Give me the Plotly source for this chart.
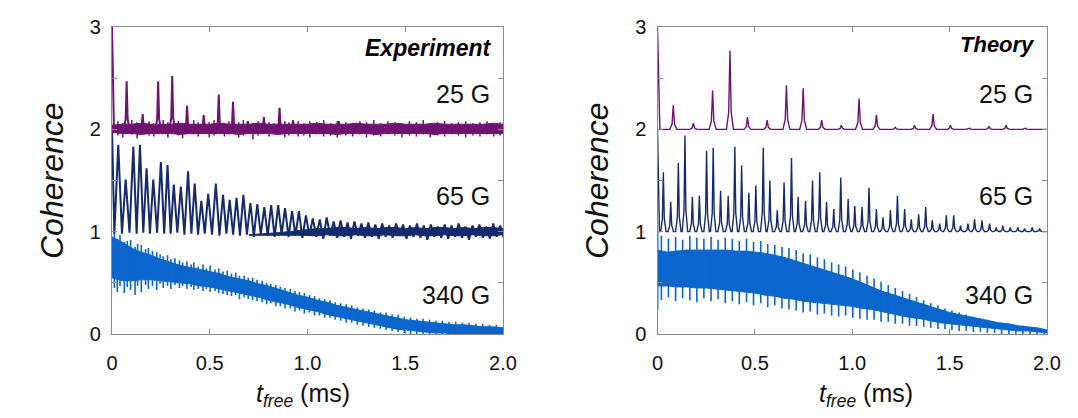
import plotly.graph_objects as go

# ---------------- data ----------------
t_grid = [0.00, 0.05, 0.10, 0.15, 0.20, 0.25, 0.30, 0.35, 0.40, 0.45,
          0.50, 0.55, 0.60, 0.65, 0.70, 0.75, 0.80, 0.85, 0.90, 0.95,
          1.00, 1.05, 1.10, 1.15, 1.20, 1.25, 1.30, 1.35, 1.40, 1.45,
          1.50, 1.55, 1.60, 1.65, 1.70, 1.75, 1.80, 1.85, 1.90, 1.95, 2.00]

# Experiment, 25 G (offset 2)
exp25_start_t = [0.0, 0.010]
exp25_start_v = [3.0, 2.0]
exp25_peak_t = [0.075, 0.157, 0.236, 0.308, 0.384, 0.469, 0.546, 0.619, 0.695, 0.777, 0.857, 0.926, 1.160]
exp25_peak_v = [2.47, 2.15, 2.47, 2.52, 2.23, 2.14, 2.34, 2.27, 2.08, 2.12, 2.21, 2.09, 2.08]
exp25_upper = [2.04, 2.05, 2.05, 2.06, 2.05, 2.05, 2.05, 2.06, 2.05, 2.05, 2.05, 2.06, 2.05, 2.05,
               2.05, 2.06, 2.05, 2.05, 2.05, 2.05, 2.05, 2.06, 2.05, 2.05, 2.05, 2.06, 2.05, 2.05,
               2.05, 2.06, 2.05, 2.05, 2.05, 2.06, 2.05, 2.05, 2.05, 2.05, 2.05, 2.06, 2.05]
exp25_lower = [1.97, 1.96, 1.96, 1.95, 1.96, 1.96, 1.96, 1.95, 1.96, 1.96, 1.96, 1.96, 1.96, 1.95,
               1.96, 1.96, 1.96, 1.95, 1.96, 1.96, 1.96, 1.96, 1.96, 1.95, 1.96, 1.96, 1.96, 1.95,
               1.96, 1.96, 1.96, 1.96, 1.96, 1.95, 1.96, 1.96, 1.96, 1.96, 1.96, 1.96, 1.96]
exp25_noise_t = [0.030, 0.055, 0.101, 0.128, 0.190, 0.214, 0.262, 0.286, 0.339, 0.361, 0.418, 0.441,
                 0.497, 0.522, 0.575, 0.598, 0.648, 0.672, 0.721, 0.748, 0.803, 0.829, 0.884, 0.905,
                 0.952, 0.981, 1.012, 1.047, 1.083, 1.118, 1.152, 1.196, 1.231, 1.268, 1.302, 1.339,
                 1.374, 1.411, 1.447, 1.483, 1.521, 1.557, 1.592, 1.628, 1.665, 1.701, 1.738, 1.772,
                 1.809, 1.846, 1.882, 1.918, 1.953, 1.985]
exp25_noise_hi = [2.08, 2.06, 2.09, 2.07, 2.08, 2.06, 2.09, 2.07, 2.08, 2.06, 2.09, 2.07,
                  2.07, 2.09, 2.06, 2.08, 2.07, 2.09, 2.06, 2.08, 2.07, 2.06, 2.08, 2.07,
                  2.08, 2.06, 2.08, 2.07, 2.09, 2.06, 2.08, 2.07, 2.06, 2.08, 2.07, 2.09,
                  2.06, 2.08, 2.07, 2.06, 2.08, 2.07, 2.09, 2.06, 2.07, 2.08, 2.06, 2.07,
                  2.08, 2.06, 2.07, 2.08, 2.06, 2.07]
exp25_noise_lo = [1.94, 1.92, 1.95, 1.91, 1.94, 1.93, 1.95, 1.92, 1.94, 1.91, 1.95, 1.93,
                  1.92, 1.94, 1.93, 1.95, 1.92, 1.94, 1.90, 1.94, 1.93, 1.95, 1.92, 1.94,
                  1.93, 1.94, 1.92, 1.95, 1.93, 1.94, 1.92, 1.94, 1.93, 1.95, 1.92, 1.94,
                  1.93, 1.95, 1.94, 1.92, 1.94, 1.93, 1.95, 1.92, 1.94, 1.93, 1.95, 1.94,
                  1.92, 1.94, 1.93, 1.95, 1.93, 1.94]

# Experiment, 65 G (offset 1)
exp65_start_t = [0.0, 0.012]
exp65_start_v = [2.0, 0.98]
exp65_peak_t = [0.032, 0.070, 0.109, 0.143, 0.177, 0.211, 0.250, 0.284, 0.316, 0.352,
                0.389, 0.423, 0.457, 0.492, 0.531, 0.568, 0.602, 0.637, 0.672, 0.708,
                0.743, 0.779, 0.814, 0.850, 0.885, 0.921, 0.956, 0.992, 1.027, 1.063,
                1.098, 1.134, 1.169, 1.205, 1.240, 1.276, 1.311, 1.347, 1.382, 1.418,
                1.453, 1.489, 1.524, 1.560, 1.595, 1.631, 1.666, 1.702, 1.737, 1.773,
                1.808, 1.844, 1.879, 1.915, 1.950, 1.986]
exp65_peak_v = [1.85, 1.51, 1.83, 1.85, 1.62, 1.51, 1.68, 1.65, 1.46, 1.44,
                1.59, 1.47, 1.30, 1.37, 1.47, 1.36, 1.31, 1.33, 1.36, 1.28,
                1.27, 1.24, 1.26, 1.26, 1.23, 1.20, 1.20, 1.16, 1.13, 1.12,
                1.14, 1.10, 1.11, 1.09, 1.10, 1.08, 1.09, 1.07, 1.08, 1.06,
                1.08, 1.07, 1.06, 1.08, 1.06, 1.07, 1.05, 1.07, 1.06, 1.08,
                1.05, 1.06, 1.07, 1.05, 1.08, 1.06]
exp65_trough_v = [0.98, 0.99, 0.98, 0.99, 0.98, 0.99, 0.98, 0.98, 0.99, 0.97,
                  0.98, 0.97, 0.98, 0.97, 0.96, 0.98, 0.97, 0.96, 0.97, 0.95,
                  0.97, 0.96, 0.95, 0.97, 0.95, 0.96, 0.94, 0.96, 0.95, 0.93,
                  0.96, 0.94, 0.95, 0.93, 0.96, 0.94, 0.95, 0.93, 0.95, 0.94,
                  0.96, 0.93, 0.95, 0.94, 0.92, 0.95, 0.94, 0.93, 0.95, 0.94,
                  0.92, 0.95, 0.94, 0.93, 0.95, 0.94]
# late, noise-dominated part of the 65 G trace (fills in as the oscillation fades)
exp65_band_t = [0.70, 0.75, 0.80, 0.85, 0.90, 0.95,
                1.00, 1.05, 1.10, 1.15, 1.20, 1.25, 1.30, 1.35, 1.40, 1.45, 1.50,
                1.55, 1.60, 1.65, 1.70, 1.75, 1.80, 1.85, 1.90, 1.95, 2.00]
exp65_band_hi = [0.97, 0.975, 0.98, 0.99, 1.00, 1.01,
                 1.02, 1.03, 1.03, 1.04, 1.04, 1.03, 1.04, 1.03, 1.04, 1.04, 1.03,
                 1.04, 1.03, 1.04, 1.04, 1.03, 1.04, 1.03, 1.04, 1.04, 1.03]
exp65_band_lo = [0.965, 0.965, 0.965, 0.965, 0.965, 0.965,
                 0.965, 0.96, 0.97, 0.96, 0.96, 0.97, 0.96, 0.96, 0.97, 0.96, 0.96,
                 0.97, 0.96, 0.96, 0.97, 0.96, 0.96, 0.97, 0.96, 0.96, 0.97]

# Experiment, 340 G (offset 0): solid band plus noise spikes
exp340_upper = [0.95, 0.90, 0.84, 0.80, 0.77, 0.73, 0.70, 0.67, 0.65, 0.63,
                0.61, 0.59, 0.56, 0.54, 0.52, 0.49, 0.47, 0.44, 0.41, 0.38,
                0.36, 0.33, 0.31, 0.28, 0.26, 0.24, 0.22, 0.20, 0.18, 0.16,
                0.14, 0.13, 0.12, 0.11, 0.10, 0.09, 0.09, 0.08, 0.07, 0.07, 0.06]
exp340_lower = [0.55, 0.52, 0.52, 0.53, 0.53, 0.52, 0.51, 0.50, 0.49, 0.47,
                0.46, 0.44, 0.42, 0.40, 0.38, 0.36, 0.33, 0.31, 0.29, 0.26,
                0.24, 0.22, 0.19, 0.17, 0.15, 0.13, 0.11, 0.09, 0.07, 0.05,
                0.04, 0.03, 0.02, 0.01, 0.01, 0.00, 0.00, 0.00, 0.00, 0.00, 0.00]
exp340_spike_t = [0.012, 0.027, 0.041, 0.063, 0.078, 0.095, 0.118, 0.131, 0.150, 0.172,
                  0.186, 0.207, 0.229, 0.246, 0.262, 0.284, 0.301, 0.322, 0.345, 0.361,
                  0.383, 0.405, 0.419, 0.441, 0.466, 0.483, 0.502, 0.527, 0.546, 0.568,
                  0.589, 0.611, 0.633, 0.652, 0.676, 0.697, 0.719, 0.742, 0.768, 0.791,
                  0.812, 0.838, 0.861, 0.885, 0.912, 0.936, 0.959, 0.984, 1.010, 1.036,
                  1.061, 1.088, 1.115, 1.142, 1.170, 1.198, 1.226, 1.255, 1.284, 1.313,
                  1.342, 1.372, 1.402, 1.433, 1.464, 1.495, 1.527, 1.559, 1.591, 1.624,
                  1.657, 1.690, 1.724, 1.758, 1.792, 1.826, 1.861, 1.896, 1.931, 1.966]
exp340_spike_hi = [0.99, 0.93, 0.97, 0.90, 0.91, 0.92, 0.85, 0.88, 0.87, 0.83,
                   0.84, 0.81, 0.80, 0.78, 0.76, 0.77, 0.73, 0.74, 0.72, 0.70,
                   0.71, 0.68, 0.70, 0.66, 0.68, 0.64, 0.67, 0.63, 0.64, 0.61,
                   0.62, 0.59, 0.60, 0.57, 0.57, 0.55, 0.55, 0.53, 0.52, 0.50,
                   0.49, 0.48, 0.46, 0.45, 0.44, 0.42, 0.41, 0.40, 0.38, 0.37,
                   0.35, 0.34, 0.33, 0.31, 0.30, 0.29, 0.28, 0.26, 0.25, 0.24,
                   0.23, 0.21, 0.21, 0.19, 0.19, 0.17, 0.16, 0.15, 0.15, 0.14,
                   0.13, 0.13, 0.12, 0.12, 0.11, 0.11, 0.10, 0.10, 0.09, 0.09]
exp340_spike_lo = [0.45, 0.41, 0.47, 0.40, 0.46, 0.43, 0.38, 0.47, 0.41, 0.48,
                   0.44, 0.47, 0.43, 0.49, 0.45, 0.47, 0.44, 0.48, 0.45, 0.47,
                   0.44, 0.46, 0.43, 0.44, 0.42, 0.44, 0.41, 0.42, 0.40, 0.39,
                   0.38, 0.37, 0.38, 0.34, 0.36, 0.34, 0.33, 0.32, 0.31, 0.29,
                   0.30, 0.27, 0.27, 0.25, 0.25, 0.22, 0.23, 0.20, 0.21, 0.18,
                   0.18, 0.16, 0.16, 0.14, 0.13, 0.11, 0.11, 0.09, 0.08, 0.07,
                   0.06, 0.05, 0.04, 0.03, 0.02, 0.01, 0.00, 0.00, -0.01, 0.00,
                   -0.01, -0.01, -0.01, -0.01, -0.01, -0.01, -0.01, -0.01, -0.01, -0.01]

# Theory, 25 G
th25_start_t = [0.0, 0.012]
th25_start_v = [3.0, 2.0]
th25_peak_t = [0.081, 0.184, 0.283, 0.372, 0.462, 0.563, 0.662, 0.748, 0.843, 0.944,
               1.035, 1.124, 1.221, 1.320, 1.415, 1.504, 1.603, 1.702, 1.790, 1.890]
th25_peak_v = [2.235, 2.06, 2.38, 2.77, 2.12, 2.09, 2.43, 2.40, 2.09, 2.04,
               2.30, 2.14, 2.02, 2.04, 2.15, 2.04, 2.01, 2.03, 2.04, 2.01]
th25_base = 2.0

# Theory, 65 G
th65_start_t = [0.0, 0.010]
th65_start_v = [2.0, 1.0]
th65_peak_t = [0.030, 0.068, 0.107, 0.141, 0.179, 0.215, 0.252, 0.286, 0.324, 0.363,
               0.397, 0.432, 0.469, 0.505, 0.543, 0.577, 0.615, 0.650, 0.688, 0.722,
               0.760, 0.796, 0.833, 0.868, 0.905, 0.941, 0.979, 1.013, 1.050, 1.086,
               1.124, 1.158, 1.196, 1.232, 1.269, 1.303, 1.341, 1.377, 1.411, 1.449,
               1.483, 1.521, 1.556, 1.594, 1.628, 1.666, 1.705, 1.739, 1.773, 1.811,
               1.850, 1.885, 1.924, 1.962]
th65_peak_v = [1.58, 1.29, 1.67, 1.94, 1.34, 1.35, 1.79, 1.82, 1.40, 1.35,
               1.83, 1.65, 1.38, 1.45, 1.82, 1.50, 1.21, 1.48, 1.72, 1.34,
               1.30, 1.50, 1.58, 1.29, 1.22, 1.53, 1.32, 1.25, 1.24, 1.43,
               1.22, 1.14, 1.21, 1.35, 1.22, 1.12, 1.17, 1.24, 1.11, 1.08,
               1.16, 1.16, 1.06, 1.08, 1.12, 1.11, 1.08, 1.04, 1.06, 1.04,
               1.04, 1.03, 1.04, 1.03]
th65_base = 1.0

# Theory, 340 G: solid band plus regular spikes
th340_start_t = [0.0, 0.0]
th340_start_v = [0.24, 1.0]
th340_upper = [0.82, 0.80, 0.81, 0.82, 0.82, 0.82, 0.82, 0.82, 0.81, 0.81,
               0.80, 0.79, 0.77, 0.75, 0.72, 0.69, 0.66, 0.63, 0.60, 0.57,
               0.54, 0.50, 0.46, 0.42, 0.39, 0.36, 0.33, 0.30, 0.27, 0.24,
               0.21, 0.19, 0.17, 0.15, 0.13, 0.11, 0.10, 0.08, 0.07, 0.06, 0.04]
th340_lower = [0.47, 0.47, 0.46, 0.46, 0.45, 0.45, 0.44, 0.43, 0.42, 0.41,
               0.40, 0.38, 0.37, 0.35, 0.34, 0.32, 0.31, 0.30, 0.29, 0.28,
               0.27, 0.25, 0.24, 0.22, 0.20, 0.18, 0.16, 0.15, 0.13, 0.11,
               0.10, 0.09, 0.08, 0.07, 0.06, 0.05, 0.04, 0.03, 0.03, 0.02, 0.01]
th340_spike_t = [0.020, 0.056, 0.093, 0.129, 0.166, 0.202, 0.238, 0.275, 0.311, 0.348,
                 0.384, 0.420, 0.457, 0.493, 0.530, 0.566, 0.602, 0.639, 0.675, 0.712,
                 0.748, 0.784, 0.821, 0.857, 0.894, 0.930, 0.966, 1.003, 1.039, 1.076,
                 1.112, 1.148, 1.185, 1.221, 1.258, 1.294, 1.330, 1.367, 1.403, 1.440,
                 1.476, 1.512, 1.549, 1.585, 1.622, 1.658, 1.694, 1.731, 1.767, 1.804,
                 1.840, 1.876, 1.913, 1.949, 1.986]
th340_spike_hi = [0.96, 0.93, 0.95, 0.92, 0.96, 0.94, 0.93, 0.95, 0.92, 0.94,
                  0.93, 0.91, 0.93, 0.90, 0.91, 0.88, 0.87, 0.85, 0.84, 0.82,
                  0.79, 0.78, 0.75, 0.73, 0.70, 0.68, 0.66, 0.63, 0.60, 0.57,
                  0.54, 0.51, 0.48, 0.45, 0.42, 0.39, 0.36, 0.33, 0.30, 0.28,
                  0.25, 0.23, 0.21, 0.19, 0.17, 0.15, 0.14, 0.12, 0.11, 0.10,
                  0.09, 0.08, 0.07, 0.06, 0.05]
th340_spike_lo = [0.33, 0.36, 0.32, 0.35, 0.33, 0.31, 0.35, 0.32, 0.34, 0.30,
                  0.32, 0.29, 0.31, 0.28, 0.30, 0.26, 0.28, 0.25, 0.24, 0.23,
                  0.21, 0.22, 0.19, 0.20, 0.18, 0.17, 0.18, 0.16, 0.15, 0.14,
                  0.14, 0.12, 0.12, 0.10, 0.10, 0.08, 0.08, 0.07, 0.06, 0.05,
                  0.05, 0.04, 0.03, 0.03, 0.02, 0.02, 0.01, 0.01, 0.00, 0.00,
                  0.00, 0.00, 0.00, 0.00, 0.00]

field_labels = ["25 G", "65 G", "340 G"]
label_levels = [2.35, 1.35, 0.38]

PURPLE = "#6e1470"
NAVY = "#162a6e"
BLUE = "#0a66cc"


# ---------------- helpers ----------------
def zigzag(start_t, start_v, peak_t, peak_v, trough_v, last_gap):
    xs, ys = list(start_t), list(start_v)
    for i, (tp, vp) in enumerate(zip(peak_t, peak_v)):
        xs.append(tp)
        ys.append(vp)
        nxt = peak_t[i + 1] if i + 1 < len(peak_t) else tp + last_gap
        xs.append((tp + nxt) / 2)
        ys.append(trough_v[i])
    return xs, ys


def cusps(start_t, start_v, peak_t, peak_v, base, hw, end_t=2.0):
    xs, ys = list(start_t), list(start_v)
    for tp, vp in zip(peak_t, peak_v):
        xs += [tp - hw, tp - hw * 0.35, tp, tp + hw * 0.35, tp + hw]
        ys += [base, base + 0.22 * (vp - base), vp, base + 0.22 * (vp - base), base]
    xs.append(end_t)
    ys.append(base)
    return xs, ys


def segments(ts, hi, lo):
    xs, ys = [], []
    for t, a, b in zip(ts, hi, lo):
        xs += [t, t, None]
        ys += [b, a, None]
    return xs, ys


def band(t, upper, lower, color, xa, ya):
    return go.Scatter(x=list(t) + list(t)[::-1], y=list(upper) + list(lower)[::-1],
                      fill="toself", fillcolor=color, mode="lines",
                      line=dict(color=color, width=1), xaxis=xa, yaxis=ya,
                      hoverinfo="skip", showlegend=False)


def seg_trace(ts, hi, lo, color, width, xa, ya):
    sx, sy = segments(ts, hi, lo)
    return go.Scatter(x=sx, y=sy, mode="lines", line=dict(color=color, width=width),
                      xaxis=xa, yaxis=ya, hoverinfo="skip", showlegend=False)


fig = go.Figure()

# ---- Experiment panel ----
fig.add_trace(band(t_grid, exp340_upper, exp340_lower, BLUE, "x", "y"))
fig.add_trace(seg_trace(exp340_spike_t, exp340_spike_hi, exp340_spike_lo, BLUE, 1.6, "x", "y"))
fig.add_trace(band(exp65_band_t, exp65_band_hi, exp65_band_lo, NAVY, "x", "y"))
x65, y65 = zigzag(exp65_start_t, exp65_start_v, exp65_peak_t, exp65_peak_v, exp65_trough_v, 0.035)
fig.add_trace(go.Scatter(x=x65, y=y65, mode="lines", line=dict(color=NAVY, width=2),
                         xaxis="x", yaxis="y", showlegend=False))
fig.add_trace(band(t_grid, exp25_upper, exp25_lower, PURPLE, "x", "y"))
fig.add_trace(seg_trace(exp25_noise_t, exp25_noise_hi, exp25_noise_lo, PURPLE, 1.5, "x", "y"))
x25, y25 = cusps(exp25_start_t, exp25_start_v, exp25_peak_t, exp25_peak_v, 2.0, 0.014)
fig.add_trace(go.Scatter(x=x25, y=y25, mode="lines", line=dict(color=PURPLE, width=2),
                         xaxis="x", yaxis="y", showlegend=False))

# ---- Theory panel ----
fig.add_trace(band(t_grid, th340_upper, th340_lower, BLUE, "x2", "y2"))
fig.add_trace(seg_trace(th340_spike_t, th340_spike_hi, th340_spike_lo, BLUE, 1.6, "x2", "y2"))
fig.add_trace(go.Scatter(x=th340_start_t, y=th340_start_v, mode="lines", line=dict(color=BLUE, width=2),
                         xaxis="x2", yaxis="y2", showlegend=False))
tx65, ty65 = cusps(th65_start_t, th65_start_v, th65_peak_t, th65_peak_v, th65_base, 0.014)
fig.add_trace(go.Scatter(x=tx65, y=ty65, mode="lines", line=dict(color=NAVY, width=1.4),
                         xaxis="x2", yaxis="y2", showlegend=False))
tx25, ty25 = cusps(th25_start_t, th25_start_v, th25_peak_t, th25_peak_v, th25_base, 0.018)
fig.add_trace(go.Scatter(x=tx25, y=ty25, mode="lines", line=dict(color=PURPLE, width=1.4),
                         xaxis="x2", yaxis="y2", showlegend=False))

FONT = "Arial, Liberation Sans, sans-serif"
axis_common = dict(showgrid=False, zeroline=False, showline=True, linecolor="#8a8a8a",
                   linewidth=1.2, mirror="ticks", ticks="inside", ticklen=5, automargin=False,
                   tickcolor="#8a8a8a", tickfont=dict(family=FONT, size=20, color="#111"))
x_ticks = dict(range=[0, 2.0], tickvals=[0, 0.5, 1.0, 1.5, 2.0],
               ticktext=["0", "0.5", "1.0", "1.5", "2.0"], ticklabelstandoff=11)
y_ticks = dict(range=[0, 3], tickvals=[0, 1, 2, 3], ticktext=["0", "1", "2", "3"],
               ticklabelstandoff=6,
               minor=dict(dtick=0.5, ticks="inside", ticklen=5, tickcolor="#8a8a8a", showgrid=False))

yb, yt = 1 - 334 / 418, 1 - 27 / 418
fig.update_layout(
    width=1078, height=418, margin=dict(l=0, r=0, t=0, b=0),
    paper_bgcolor="white", plot_bgcolor="white", showlegend=False,
    xaxis=dict(domain=[112 / 1078, 503 / 1078], anchor="y", **axis_common, **x_ticks),
    yaxis=dict(domain=[yb, yt], anchor="x", **axis_common, **y_ticks),
    xaxis2=dict(domain=[657.5 / 1078, 1047 / 1078], anchor="y2", **axis_common, **x_ticks),
    yaxis2=dict(domain=[yb, yt], anchor="x2", **axis_common, **y_ticks),
)

ann = []
for xa, ya, xr, title, ty, fs in [("x", "y", 1.955, "Experiment", 2.79, 23),
                                  ("x2", "y2", 1.95, "Theory", 2.83, 22)]:
    ann.append(dict(x=xr, y=ty, xref=xa, yref=ya, text="<b><i>" + title + "</i></b>",
                    showarrow=False, xanchor="right", yanchor="middle",
                    font=dict(family=FONT, size=fs, color="black")))
    for lab, lev in zip(field_labels, label_levels):
        ann.append(dict(x=xr - 0.01, y=lev, xref=xa, yref=ya, text=lab, showarrow=False,
                        xanchor="right", yanchor="middle",
                        font=dict(family=FONT, size=25, color="#111")))
for xc in [52 / 1078, 597 / 1078]:
    ann.append(dict(x=xc, y=1 - 181 / 418, xref="paper", yref="paper", text="<i>Coherence</i>",
                    textangle=-90, showarrow=False, xanchor="center", yanchor="middle",
                    font=dict(family=FONT, size=32, color="#111")))
for xc in [303 / 1078, 866 / 1078]:
    ann.append(dict(x=xc, y=1 - 395 / 418, xref="paper", yref="paper",
                    text="<i>t</i><sub><i>free</i></sub> (ms)", showarrow=False,
                    xanchor="center", yanchor="middle",
                    font=dict(family=FONT, size=25, color="#111")))
fig.update_layout(annotations=ann)

fig.write_html("out.html")
